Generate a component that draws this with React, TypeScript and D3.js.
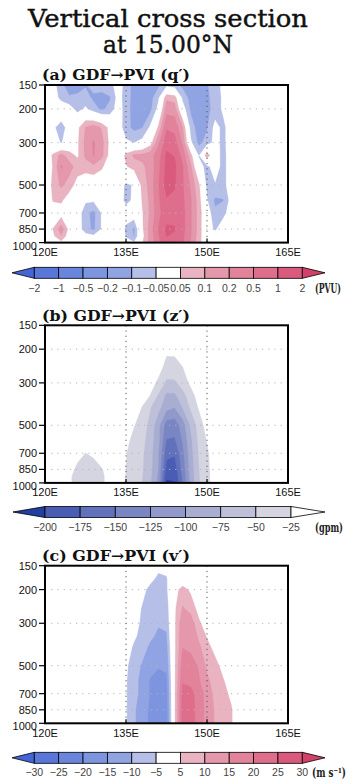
import React from 'react';
import * as d3 from 'd3';

// ---------- grid ----------
const LONS = [120, 121.5, 123, 124.5, 126, 127.5, 129, 130.5, 132, 133.5, 135, 136.5, 138, 139.5, 141, 142.5, 144, 145.5, 147, 148.5, 150, 151.5, 153, 154.5, 156, 157.5, 159, 160.5, 162, 163.5, 165];
const LEVELS = [150, 175, 200, 250, 300, 350, 400, 500, 600, 700, 850, 925, 1000];

const Y_TICKS = [150, 200, 300, 500, 700, 850, 1000];
const X_TICKS = [120, 135, 150, 165];
const X_TICK_LABELS = ['120E', '135E', '150E', '165E'];
const GRID_LONS = [135, 150];
const GRID_LEVELS = [200, 300, 500, 700, 850];

// ---------- (a) q' (PVU), rows top (150 hPa) to bottom (1000 hPa) ----------
const Q_150 = [0, -0.025, -0.09, -0.14, -0.14, -0.11, -0.08, -0.075, -0.065, -0.03, -0.065, -0.15, -0.16, -0.15, -0.12, -0.07, -0.08, -0.13, -0.15, -0.14, -0.11, -0.075, -0.035, 0, 0, 0, 0, 0, 0, 0, 0];
const Q_175 = [0, -0.015, -0.07, -0.095, -0.09, -0.08, -0.12, -0.14, -0.11, -0.03, -0.07, -0.15, -0.16, -0.14, -0.06, 0.09, 0.08, -0.065, -0.14, -0.15, -0.12, -0.08, -0.04, 0, 0, 0, 0, 0, 0, 0, 0];
const Q_200 = [0, 0, 0, -0.02, -0.07, -0.04, -0.08, -0.12, -0.085, -0.02, -0.075, -0.15, -0.15, -0.13, -0.03, 0.16, 0.15, -0.02, -0.12, -0.15, -0.13, -0.08, -0.04, 0, 0, 0, 0, 0, 0, 0, 0];
const Q_250 = [0, -0.04, -0.075, -0.025, 0.035, 0.105, 0.15, 0.095, 0.03, -0.015, -0.08, -0.13, -0.105, -0.04, 0.06, 0.47, 0.41, 0.105, -0.075, -0.15, -0.11, -0.03, -0.065, -0.015, 0, 0, 0, 0, 0, 0, 0];
const Q_300 = [0, -0.015, -0.055, -0.01, 0.04, 0.13, 0.23, 0.14, 0.035, -0.01, -0.04, -0.052, -0.03, 0.025, 0.18, 0.8, 0.7, 0.18, -0.04, -0.13, -0.08, -0.03, -0.065, -0.015, 0, 0, 0, 0, 0, 0, 0];
const Q_350 = [0, 0.06, 0.14, 0.075, 0.04, 0.12, 0.215, 0.13, 0.03, -0.005, 0.065, 0.12, 0.13, 0.16, 0.35, 1.2, 0.975, 0.38, 0.07, -0.055, 0.09, -0.02, -0.07, -0.015, 0, 0, 0, 0, 0, 0, 0];
const Q_400 = [0, 0.055, 0.23, 0.14, 0.08, 0.08, 0.09, 0.06, 0.01, -0.01, 0.045, 0.075, 0.09, 0.14, 0.41, 1.3, 1.2, 0.525, 0.12, -0.03, -0.065, -0.02, -0.07, -0.015, 0, 0, 0, 0, 0, 0, 0];
const Q_500 = [0, 0.065, 0.12, 0.08, 0.025, -0.005, 0, 0, 0, -0.015, -0.06, -0.045, 0.07, 0.14, 0.47, 1.4, 1.1, 0.55, 0.18, 0.06, -0.065, -0.055, -0.07, -0.015, 0, 0, 0, 0, 0, 0, 0];
const Q_600 = [0, 0.055, 0.06, 0.015, 0, -0.04, -0.04, -0.015, 0, -0.015, -0.065, -0.04, 0.055, 0.13, 0.44, 0.95, 0.9, 0.6, 0.23, 0.075, -0.045, -0.12, -0.105, -0.025, 0, 0, 0, 0, 0, 0, 0];
const Q_700 = [0, 0.015, 0.02, 0, -0.015, -0.085, -0.13, -0.045, 0, -0.01, -0.025, -0.01, 0.045, 0.12, 0.41, 0.8, 0.8, 0.65, 0.23, 0.08, -0.015, -0.09, -0.07, -0.015, 0, 0, 0, 0, 0, 0, 0];
const Q_850 = [0, 0.052, 0.16, 0.03, -0.015, -0.08, -0.12, -0.045, 0, 0, -0.06, -0.12, 0.04, 0.15, 0.51, 1.15, 1.1, 0.65, 0.23, 0.08, -0.02, -0.06, -0.01, 0, 0, 0, 0, 0, 0, 0, 0];
const Q_925 = [0, 0.04, 0.095, 0.015, 0, -0.03, -0.04, -0.01, 0, 0, -0.055, -0.105, 0.03, 0.14, 0.47, 1.05, 0.9, 0.6, 0.215, 0.075, -0.01, -0.015, 0, 0, 0, 0, 0, 0, 0, 0, 0];
const Q_1000 = [0, 0.02, 0.035, 0, 0, 0, 0, 0, 0, 0, -0.025, -0.045, 0.045, 0.13, 0.44, 0.8, 0.75, 0.55, 0.19, 0.07, -0.005, 0, 0, 0, 0, 0, 0, 0, 0, 0, 0];
const Q_DATA = [Q_150, Q_175, Q_200, Q_250, Q_300, Q_350, Q_400, Q_500, Q_600, Q_700, Q_850, Q_925, Q_1000];

// ---------- (b) z' (gpm) ----------
const Z_150 = [0, 0, 0, 0, 0, 0, 0, 0, 0, 0, 0, 0, 0, 0, 0, -10, -8, 0, 0, 0, 0, 0, 0, 0, 0, 0, 0, 0, 0, 0, 0];
const Z_175 = [0, 0, 0, 0, 0, 0, 0, 0, 0, 0, 0, 0, 0, 0, -8, -15, -14, -6, 0, 0, 0, 0, 0, 0, 0, 0, 0, 0, 0, 0, 0];
const Z_200 = [0, 0, 0, 0, 0, 0, 0, 0, 0, 0, 0, 0, 0, -5, -15, -21, -20, -12, -4, 0, 0, 0, 0, 0, 0, 0, 0, 0, 0, 0, 0];
const Z_250 = [0, 0, 0, 0, 0, 0, 0, 0, 0, 0, 0, 0, -3, -8, -18, -32, -33, -26, -12, -4, 0, 0, 0, 0, 0, 0, 0, 0, 0, 0, 0];
const Z_300 = [0, 0, 0, 0, 0, 0, 0, 0, 0, 0, 0, -3, -8, -18, -29, -56, -55, -38, -20, -8, -2, 0, 0, 0, 0, 0, 0, 0, 0, 0, 0];
const Z_350 = [0, 0, 0, 0, 0, 0, 0, 0, 0, 0, -2, -6, -13, -26, -54, -80, -80, -60, -36, -14, -4, 0, 0, 0, 0, 0, 0, 0, 0, 0, 0];
const Z_400 = [0, 0, 0, 0, 0, 0, 0, 0, 0, 0, -3, -10, -26, -48, -66, -90, -98, -72, -45, -22, -8, 0, 0, 0, 0, 0, 0, 0, 0, 0, 0];
const Z_500 = [0, 0, 0, 0, 0, 0, 0, 0, 0, -3, -10, -24, -38, -58, -92, -138, -140, -112, -70, -40, -14, -4, 0, 0, 0, 0, 0, 0, 0, 0, 0];
const Z_600 = [0, 0, 0, 0, -6, -12, -8, 0, 0, -5, -18, -34, -42, -64, -92, -151, -153, -122, -80, -44, -24, -8, 0, 0, 0, 0, 0, 0, 0, 0, 0];
const Z_700 = [0, 0, 0, 0, -18, -25.5, -22, -10, -2, -5, -24, -38, -46, -66, -98, -168, -172, -132, -84, -48, -30, -10, 0, 0, 0, 0, 0, 0, 0, 0, 0];
const Z_850 = [0, 0, 0, -18, -30, -34, -32, -27, -15, -8, -26, -40, -48, -68, -101, -185, -188, -140, -88, -51, -32, -12, -3, 0, 0, 0, 0, 0, 0, 0, 0];
const Z_925 = [0, 0, -5, -22, -33, -36, -34, -29, -18, -9, -27, -41, -49, -70, -104, -195, -196, -145, -90, -52, -33, -12, -3, 0, 0, 0, 0, 0, 0, 0, 0];
const Z_1000 = [0, 0, -5, -22, -33, -36, -34, -29, -18, -10, -28, -42, -51, -72, -106, -205, -201, -148, -92, -53, -33, -12, -3, 0, 0, 0, 0, 0, 0, 0, 0];
const Z_DATA = [Z_150, Z_175, Z_200, Z_250, Z_300, Z_350, Z_400, Z_500, Z_600, Z_700, Z_850, Z_925, Z_1000];

// ---------- (c) v' (m/s) ----------
const V_150 = [0, 0, 0, 0, 0, 0, 0, 0, 0, 0, 0, 0, 0, 0, -3, -3, 0, 0, 0, 0, 0, 0, 0, 0, 0, 0, 0, 0, 0, 0, 0];
const V_175 = [0, 0, 0, 0, 0, 0, 0, 0, 0, 0, 0, 0, 0, -3, -6.5, -5.5, 0, 1, 0, 0, 0, 0, 0, 0, 0, 0, 0, 0, 0, 0, 0];
const V_200 = [0, 0, 0, 0, 0, 0, 0, 0, 0, 0, 0, 0, -3, -7, -8, -6, 3, 7, 4, 0, 0, 0, 0, 0, 0, 0, 0, 0, 0, 0, 0];
const V_250 = [0, 0, 0, 0, 0, 0, 0, 0, 0, 0, 0, -2, -5.5, -8, -9, -8, 4, 10.5, 8, 3, 0, 0, 0, 0, 0, 0, 0, 0, 0, 0, 0];
const V_300 = [0, 0, 0, 0, 0, 0, 0, 0, 0, 0, 0, -3, -6, -8.5, -9.5, -9, 4, 14, 13, 6, 2, 0, 0, 0, 0, 0, 0, 0, 0, 0, 0];
const V_350 = [0, 0, 0, 0, 0, 0, 0, 0, 0, 0, -1, -4, -7, -9, -11, -10.5, 4, 14.5, 14, 9, 4.5, 1, 0, 0, 0, 0, 0, 0, 0, 0, 0];
const V_400 = [0, 0, 0, 0, 0, 0, 0, 0, 0, 0, -2, -6, -8, -11, -13, -12, 4, 14.8, 14, 11, 7, 3, 0, 0, 0, 0, 0, 0, 0, 0, 0];
const V_500 = [0, 0, 0, 0, 0, 0, 0, 0, 0, 0, -4, -8, -10.5, -13, -14.5, -14, 4, 18, 17, 14.5, 9, 7, 3, 0, 0, 0, 0, 0, 0, 0, 0];
const V_600 = [0, 0, 0, 0, 0, 0, 0, 0, 0, 0, -4.5, -9, -11, -15.5, -17, -16, 4, 19.5, 19, 15.5, 11, 8, 5.5, 2, 0, 0, 0, 0, 0, 0, 0];
const V_700 = [0, 0, 0, 0, 0, 0, 0, 0, 0, 0, -4.5, -9, -11, -15.5, -18, -17, 4, 22, 21, 18.5, 12, 9, 6.5, 4, 1, 0, 0, 0, 0, 0, 0];
const V_850 = [0, 0, 0, 0, 0, 0, 0, 0, 0, 0, -4.5, -9.5, -12, -16, -19, -17.5, 4, 23, 22, 18, 13, 9.5, 7, 5.5, 1, 0, 0, 0, 0, 0, 0];
const V_925 = [0, 0, 0, 0, 0, 0, 0, 0, 0, 0, -4.5, -9.5, -12, -16.5, -19.5, -18, 4, 23, 22, 18, 13, 9.5, 7, 5.5, 1, 0, 0, 0, 0, 0, 0];
const V_1000 = [0, 0, 0, 0, 0, 0, 0, 0, 0, 0, -4.5, -9.5, -12, -16.5, -19.5, -18, 4, 23, 22, 18, 13, 9.5, 7, 5.5, 1, 0, 0, 0, 0, 0, 0];
const V_DATA = [V_150, V_175, V_200, V_250, V_300, V_350, V_400, V_500, V_600, V_700, V_850, V_925, V_1000];

// ---------- contour levels, labels, colours ----------
const Q_LEVELS = [-2, -1, -0.5, -0.2, -0.1, -0.05, 0.05, 0.1, 0.2, 0.5, 1, 2];
const Q_LABELS = ['\u22122', '\u22121', '\u22120.5', '\u22120.2', '\u22120.1', '\u22120.05', '0.05', '0.1', '0.2', '0.5', '1', '2'];
const Z_LEVELS = [-200, -175, -150, -125, -100, -75, -50, -25];
const Z_LABELS = ['\u2212200', '\u2212175', '\u2212150', '\u2212125', '\u2212100', '\u221275', '\u221250', '\u221225'];
const V_LEVELS = [-30, -25, -20, -15, -10, -5, 5, 10, 15, 20, 25, 30];
const V_LABELS = ['\u221230', '\u221225', '\u221220', '\u221215', '\u221210', '\u22125', '5', '10', '15', '20', '25', '30'];

const BR_COLORS = ['#4465d6', '#5877d9', '#6a86dc', '#7d95df', '#90a3e2', '#b5bfe8', '#ffffff', '#eab3c2', '#e597ac', '#e2829b', '#de6e8c', '#d95a7d', '#d3416b'];
const Z_COLORS = ['#203f9e', '#4a5db4', '#6271bc', '#7a86c4', '#9199cb', '#a8add2', '#bec0d9', '#d4d5e0', '#ffffff'];

const X0 = 45;
const X1 = 288;
const PH = 157.6;
const SANS = 'Liberation Sans, Arial, sans-serif';
const SERIF = 'DejaVu Serif, serif';

function Panel({ id, top, title, data, levels, colors, warp }: any) {
  const x = d3.scaleLinear().domain([120, 165]).range([X0, X1]);
  const y = d3.scaleLog().domain([150, 1000]).range([top, top + PH]);
  const nx = LONS.length;
  const ny = LEVELS.length;
  const values = (data as number[][]).flat().map((v) => warp(v));
  const gen = d3.contours().size([nx, ny]).smooth(true);
  const interp = (g: number, arr: number[], s: (v: number) => number) => {
    const c = Math.max(0, Math.min(arr.length - 1, g));
    const i0 = Math.floor(c);
    const i1 = Math.min(arr.length - 1, i0 + 1);
    const f = c - i0;
    return s(arr[i0]) + f * (s(arr[i1]) - s(arr[i0]));
  };
  const proj = d3.geoTransform({
    point(a: number, b: number) {
      (this as any).stream.point(interp(a - 0.5, LONS, x), interp(b - 0.5, LEVELS, y));
    },
  });
  const path = d3.geoPath(proj as any);
  const bands = (levels as number[]).map((lv, k) => ({
    d: path(gen.contour(values, warp(lv)) as any) || '',
    fill: colors[k + 1],
  }));
  const bottom = top + PH;
  return (
    <g>
      <defs>
        <clipPath id={`clip-${id}`}>
          <rect x={X0} y={top} width={X1 - X0} height={PH} />
        </clipPath>
      </defs>
      <g clipPath={`url(#clip-${id})`}>
        <rect x={X0} y={top} width={X1 - X0} height={PH} fill={colors[0]} />
        {bands.map((b, i) => (
          <path key={i} d={b.d} fill={b.fill} stroke={b.fill} strokeWidth={0.3} />
        ))}
        {GRID_LEVELS.map((p) => (
          <line key={`h${p}`} x1={X0} x2={X1} y1={y(p)} y2={y(p)} stroke="#b4b4b4" strokeWidth={1} strokeDasharray="1.2,5" />
        ))}
        {GRID_LONS.map((l) => (
          <line key={`v${l}`} x1={x(l)} x2={x(l)} y1={top} y2={bottom} stroke="#555" strokeWidth={1} strokeDasharray="1.2,4" />
        ))}
      </g>
      <rect x={X0} y={top} width={X1 - X0} height={PH} fill="none" stroke="#000" strokeWidth={2} />
      {Y_TICKS.map((p) => (
        <g key={`yt${p}`}>
          <line x1={X0 - 6} x2={X0} y1={y(p)} y2={y(p)} stroke="#000" strokeWidth={1.2} />
          <text x={X0 - 8} y={y(p) + (p === 1000 ? 3 : 0)} textAnchor="end" dominantBaseline="central" fontSize={11} fontFamily={SANS} fill="#111">
            {p}
          </text>
        </g>
      ))}
      {X_TICKS.map((l, i) => (
        <g key={`xt${l}`}>
          <line x1={x(l)} x2={x(l)} y1={bottom} y2={bottom - 4} stroke="#000" strokeWidth={1.2} />
          <text x={x(l)} y={bottom + 9.5} textAnchor="middle" dominantBaseline="central" fontSize={11} fontFamily={SANS} fill="#111">
            {X_TICK_LABELS[i]}
          </text>
        </g>
      ))}
      <text x={42} y={top - 4.6} fontSize={14.5} fontWeight="bold" fontFamily={SERIF} textLength={148} lengthAdjust="spacingAndGlyphs" fill="#111">
        {title}
      </text>
    </g>
  );
}

function ColorBar({ top, x0, x1, tipL, tipR, colors, labels, unit, unitLen, unitX, labelY }: any) {
  const n = labels.length;
  const s = d3.scaleLinear().domain([0, n - 1]).range([x0, x1]);
  const h = 11;
  const mid = top + h / 2;
  return (
    <g>
      <path d={`M${x0},${top}L${tipL},${mid}L${x0},${top + h}Z`} fill={colors[0]} stroke="#000" strokeWidth={0.8} />
      {d3.range(n - 1).map((i) => (
        <rect key={i} x={s(i)} y={top} width={s(i + 1) - s(i)} height={h} fill={colors[i + 1]} stroke="#000" strokeWidth={0.8} />
      ))}
      <path d={`M${x1},${top}L${tipR},${mid}L${x1},${top + h}Z`} fill={colors[n]} stroke="#000" strokeWidth={0.8} />
      {labels.map((t: string, i: number) => (
        <text key={t} x={s(i)} y={labelY} textAnchor="middle" dominantBaseline="central" fontSize={10.5} fontFamily={SANS} fill="#444">
          {t}
        </text>
      ))}
      <text x={unitX} y={labelY + 1} dominantBaseline="central" fontSize={12} fontWeight="bold" fontFamily={SERIF} textLength={unitLen} lengthAdjust="spacingAndGlyphs" fill="#222">
        {unit}
      </text>
    </g>
  );
}

const qWarp = d3
  .scaleLinear()
  .domain([-2, -1, -0.5, -0.2, -0.1, -0.05, 0, 0.05, 0.1, 0.2, 0.5, 1, 2])
  .range([-6, -5, -4, -3, -2, -1, 0, 1, 2, 3, 4, 5, 6]);
const identity = (v: number) => v;

export default function App() {
  return (
    <svg width={359} height={780} style={{ position: 'absolute', left: 0, top: 0, background: '#fff' }}>
      <rect x={0} y={0} width={359} height={780} fill="#fff" />
      <text x={168} y={26.7} textAnchor="middle" fontSize={25} fontFamily={SERIF} textLength={280} lengthAdjust="spacingAndGlyphs" fill="#111" stroke="#111" strokeWidth={0.45}>
        Vertical cross section
      </text>
      <text x={168} y={53.3} textAnchor="middle" fontSize={25} fontFamily={SERIF} textLength={130} lengthAdjust="spacingAndGlyphs" fill="#111" stroke="#111" strokeWidth={0.45}>
        at 15.00°N
      </text>

      <Panel id="a" top={85} title={'(a) GDF\u2192PVI (q\u2032)'} data={Q_DATA} levels={Q_LEVELS} colors={BR_COLORS} warp={(v: number) => qWarp(v)} />
      <ColorBar top={267.3} x0={34.3} x1={302.3} tipL={12} tipR={325} colors={BR_COLORS} labels={Q_LABELS} unit="(PVU)" unitLen={26} unitX={315} labelY={288} />

      <Panel id="b" top={325.3} title={'(b) GDF\u2192PVI (z\u2032)'} data={Z_DATA} levels={Z_LEVELS} colors={Z_COLORS} warp={identity} />
      <ColorBar top={506.5} x0={45} x1={291} tipL={13} tipR={325} colors={Z_COLORS} labels={Z_LABELS} unit="(gpm)" unitLen={28} unitX={315} labelY={527} />

      <Panel id="c" top={565.7} title={'(c) GDF\u2192PVI (v\u2032)'} data={V_DATA} levels={V_LEVELS} colors={BR_COLORS} warp={identity} />
      <ColorBar top={752.3} x0={34.3} x1={302.3} tipL={12} tipR={325} colors={BR_COLORS} labels={V_LABELS} unit={'(m s\u207B\u00B9)'} unitLen={34} unitX={312} labelY={772} />
    </svg>
  );
}
